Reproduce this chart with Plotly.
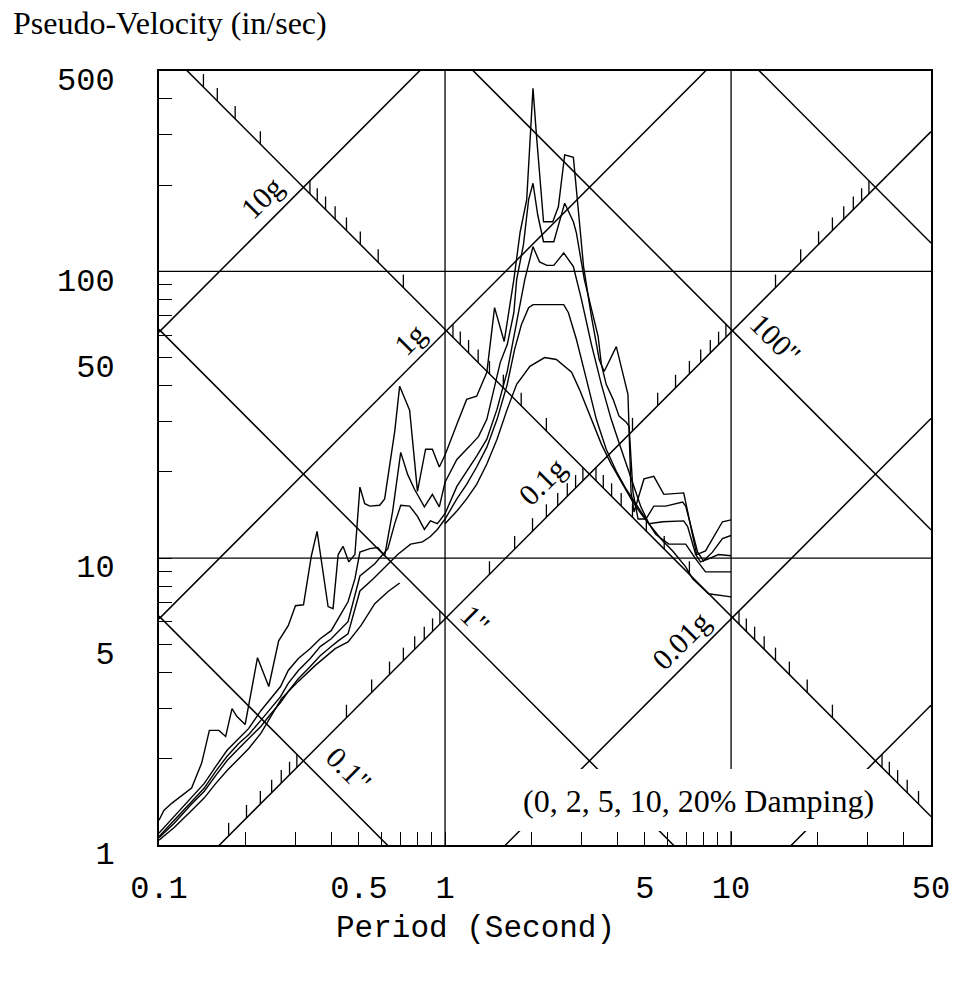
import numpy as np
import plotly.graph_objects as go

# ---------------- response spectra: period (s) vs pseudo-velocity (in/sec) ----------------
T_D0 = [0.1, 0.104, 0.111, 0.120, 0.130, 0.141, 0.150, 0.162, 0.171, 0.180, 0.187, 0.200,
        0.221, 0.242, 0.262, 0.283, 0.300, 0.320, 0.341, 0.357, 0.390, 0.406, 0.423, 0.440,
        0.461, 0.484, 0.504, 0.524, 0.546, 0.591, 0.615, 0.667, 0.694, 0.752, 0.801, 0.855,
        0.903, 0.955, 1.00, 1.10, 1.19, 1.29, 1.40, 1.49, 1.61, 1.74, 1.83, 1.93, 2.03, 2.09,
        2.21, 2.38, 2.49, 2.62, 2.81, 2.93, 3.05, 3.25, 3.46, 3.60, 3.97, 4.36, 4.47, 4.58,
        4.96, 5.37, 5.82, 6.83, 7.58, 8.14, 9.33, 10.0]
PSV_D0 = [1.22, 1.32, 1.40, 1.49, 1.58, 1.93, 2.51, 2.51, 2.39, 2.99, 2.81, 2.63,
          4.50, 3.57, 5.15, 5.82, 6.83, 6.88, 10.2, 12.4, 6.78, 6.67, 10.3, 11.0,
          9.71, 10.3, 17.7, 15.5, 15.2, 15.3, 16.1, 27.7, 39.8, 32.8, 17.1, 24.0,
          24.0, 20.8, 22.9, 29.3, 35.8, 36.7, 44.5, 74.8, 57.0, 93.6, 137, 178, 435, 294,
          149, 149, 168, 255, 250, 160, 104, 69.6, 49.3, 44.8, 54.7, 37.3, 17.0, 14.5,
          18.9, 19.3, 16.7, 16.9, 10.3, 10.6, 13.4, 13.6]

T_D2 = [0.1, 0.113, 0.130, 0.144, 0.158, 0.173, 0.190, 0.206, 0.227, 0.245, 0.266, 0.283,
        0.307, 0.338, 0.366, 0.400, 0.423, 0.458, 0.484, 0.504, 0.546, 0.582, 0.615, 0.656,
        0.700, 0.740, 0.782, 0.847, 0.903, 0.955, 1.00, 1.10, 1.22, 1.31, 1.40, 1.48, 1.56,
        1.65, 1.74, 1.78, 1.88, 1.96, 2.03, 2.11, 2.21, 2.40, 2.49, 2.62, 2.81, 2.88, 3.07,
        3.25, 3.43, 3.52, 3.66, 3.87, 4.06, 4.30, 4.40, 4.54, 4.73, 5.04, 5.37, 5.91, 6.77,
        6.94, 7.64, 8.01, 8.61, 9.33, 10.0]
PSV_D2 = [1.10, 1.26, 1.46, 1.64, 1.88, 2.14, 2.35, 2.55, 2.94, 3.24, 3.57, 4.06,
          4.47, 4.84, 5.24, 5.59, 6.15, 7.05, 8.47, 10.5, 10.8, 10.9, 10.2, 14.6,
          23.4, 19.6, 17.4, 15.1, 16.7, 15.1, 18.4, 22.1, 24.6, 26.6, 30.5, 38.8, 48.2,
          55.6, 71.8, 93.6, 124, 178, 203, 157, 127, 127, 145, 173, 149, 136, 93.6,
          73.6, 59.3, 47.4, 40.4, 35.8, 31.3, 29.8, 28.8, 17.0, 13.7, 13.7, 15.2, 15.2, 15.7,
          15.2, 10.5, 9.79, 10.5, 11.7, 12.0]

T_D5 = [0.1, 0.113, 0.130, 0.144, 0.158, 0.173, 0.190, 0.206, 0.227, 0.245, 0.266, 0.283,
        0.307, 0.338, 0.366, 0.400, 0.423, 0.458, 0.504, 0.568, 0.631, 0.667, 0.700, 0.752,
        0.801, 0.847, 0.889, 0.940, 1.00, 1.10, 1.19, 1.29, 1.40, 1.52, 1.65, 1.78, 1.90,
        2.03, 2.14, 2.27, 2.40, 2.60, 2.81, 3.00, 3.25, 3.52, 3.81, 4.13, 4.47, 4.84, 5.16,
        5.77, 6.83, 7.05, 7.52, 7.82, 8.34, 9.03, 10.0]
PSV_D5 = [1.07, 1.22, 1.42, 1.58, 1.81, 2.04, 2.26, 2.43, 2.72, 2.99, 3.29, 3.66,
          4.06, 4.47, 4.92, 5.24, 5.54, 6.01, 8.67, 9.56, 10.8, 13.2, 15.3, 15.2,
          14.0, 12.6, 13.5, 13.2, 14.3, 17.8, 20.1, 22.7, 26.0, 33.1, 44.8, 66.8, 93.6,
          122, 108, 105, 105, 116, 104, 79.8, 55.6, 40.4, 30.5, 24.0, 18.9, 15.1, 13.2,
          13.4, 13.5, 12.9, 10.3, 9.71, 9.95, 10.3, 10.2]

T_D10 = [0.1, 0.113, 0.130, 0.144, 0.158, 0.173, 0.190, 0.206, 0.227, 0.245, 0.266, 0.283,
         0.307, 0.338, 0.366, 0.400, 0.423, 0.458, 0.504, 0.560, 0.631, 0.683, 0.758, 0.834,
         0.889, 0.940, 1.00, 1.10, 1.19, 1.29, 1.40, 1.52, 1.65, 1.75, 1.85, 1.96, 2.03,
         2.60, 2.70, 2.88, 3.12, 3.38, 3.66, 3.97, 4.30, 4.65, 5.04, 5.46, 6.06, 6.94,
         7.52, 8.14, 10.0]
PSV_D10 = [1.06, 1.19, 1.39, 1.54, 1.75, 1.97, 2.17, 2.35, 2.59, 2.85, 3.14, 3.43,
           3.80, 4.19, 4.57, 4.92, 5.15, 5.45, 7.69, 8.47, 9.56, 10.3, 11.2, 11.4,
           11.9, 12.6, 13.7, 16.1, 18.1, 20.8, 24.4, 30.5, 40.4, 53.4, 65.3, 74.8, 76.6,
           76.6, 71.8, 57.9, 42.1, 30.5, 24.0, 20.1, 17.4, 15.5, 13.7, 12.1, 11.2, 11.2,
           9.95, 8.96, 8.96]

T_D20 = [0.1, 0.113, 0.130, 0.144, 0.158, 0.173, 0.190, 0.206, 0.227, 0.242, 0.268, 0.307,
         0.352, 0.413, 0.458, 0.508, 0.568, 0.631, 0.694, None, 1.00, 1.10, 1.19, 1.29,
         1.40, 1.52, 1.65, 1.78, 1.98, 2.23, 2.45, 2.77, 2.95, 3.25, 3.52, 3.81, 4.13,
         4.47, 4.84, 5.25, 5.68, 6.25, 6.94, 7.34, 8.34, 10.0]
PSV_D20 = [1.04, 1.15, 1.32, 1.46, 1.64, 1.82, 2.00, 2.17, 2.45, 2.72, 3.24, 3.72,
           4.23, 4.84, 5.11, 5.82, 6.94, 7.64, 8.20, None, 13.2, 14.6, 16.1, 18.1,
           21.3, 26.0, 33.1, 40.4, 46.7, 50.1, 49.3, 44.5, 38.8, 30.5, 25.0, 21.3, 18.4,
           16.1, 14.3, 12.9, 11.7, 10.6, 9.33, 8.47, 7.52, 7.33]

SPECTRA = [(T_D0, PSV_D0), (T_D2, PSV_D2), (T_D5, PSV_D5), (T_D10, PSV_D10), (T_D20, PSV_D20)]
DAMPING_NOTE = "(0, 2, 5, 10, 20% Damping)"

# ---------------- tripartite grid ----------------
G_IN = 386.09                      # gravity, in/s^2
ACCEL_G = [0.001, 0.01, 0.1, 1, 10]
DISP_IN = [0.1, 1, 10, 100, 1000]
SCALE_DISP = 10                    # displacement line carrying acceleration ticks
SCALE_ACCEL = 0.1                  # acceleration line carrying displacement ticks
GRID_T = [1, 10]
GRID_PSV = [10, 100]

T_RANGE = (0.1, 50)
PSV_RANGE = (1, 500)

X_TICKS = [0.1, 0.5, 1, 5, 10, 50]
X_TICKTEXT = ["0.1", "0.5", "1", "5", "10", "50"]
Y_TICKS = [1, 5, 10, 50, 100, 500]
Y_TICKTEXT = ["1", "5", "10", "50", "100", "500"]

# line labels: (text, value, period where label sits, offset px)
ACCEL_LABELS = [("10g", 10, 0.26, 16), ("1g", 1, 0.841, 14),
                ("0.1g", 0.1, 2.565, 20), ("0.01g", 0.01, 7.49, 14.5)]
DISP_LABELS = [("100\"", 100, 12.4, 17.5), ("1\"", 1, 1.143, 13.7), ("0.1\"", 0.1, 0.398, 18.5)]

TWO_PI = 2 * np.pi


def accel_psv(a, T):
    return a * G_IN * np.asarray(T, dtype=float) / TWO_PI


def disp_psv(d, T):
    return TWO_PI * d / np.asarray(T, dtype=float)


def crossing(d, a):
    T = TWO_PI * np.sqrt(d / (a * G_IN))
    return T, TWO_PI * d / T


# ---------------- layout geometry ----------------
W, H = 962, 996
M = dict(l=159, r=25, t=71, b=151)
PLOT_W = W - M["l"] - M["r"]
PLOT_H = H - M["t"] - M["b"]
PX_PER_DEC = PLOT_H / np.log10(PSV_RANGE[1] / PSV_RANGE[0])
TICK_PX = 13

MONO = "Courier New, Liberation Mono, monospace"
SERIF = "Times New Roman, Liberation Serif, serif"
LINE = dict(color="black", width=1.5)

fig = go.Figure()

# grid lines
for t in GRID_T:
    fig.add_trace(go.Scatter(x=[t, t], y=list(PSV_RANGE), mode="lines",
                             line=dict(color="black", width=1.3), hoverinfo="skip"))
for v in GRID_PSV:
    fig.add_trace(go.Scatter(x=list(T_RANGE), y=[v, v], mode="lines",
                             line=dict(color="black", width=1.3), hoverinfo="skip"))

# diagonal acceleration / displacement lines
T_ENDS = np.array(T_RANGE, dtype=float)
for a in ACCEL_G:
    fig.add_trace(go.Scatter(x=T_ENDS, y=accel_psv(a, T_ENDS), mode="lines",
                             line=LINE, hoverinfo="skip"))
for d in DISP_IN:
    fig.add_trace(go.Scatter(x=T_ENDS, y=disp_psv(d, T_ENDS), mode="lines",
                             line=LINE, hoverinfo="skip"))

# minor ticks along the two scale lines
tick_up = 10 ** (TICK_PX / PX_PER_DEC)
tx, ty = [], []
for m in range(-5, 3):
    for k in range(2, 10):
        for (T, V) in (crossing(SCALE_DISP, k * 10.0 ** m), crossing(k * 10.0 ** m, SCALE_ACCEL)):
            if T_RANGE[0] <= T <= T_RANGE[1] and PSV_RANGE[0] <= V <= PSV_RANGE[1] / tick_up:
                tx += [T, T, None]
                ty += [V, V * tick_up, None]
fig.add_trace(go.Scatter(x=tx, y=ty, mode="lines", line=dict(color="black", width=1.3),
                         hoverinfo="skip"))

# spectra
for T, V in SPECTRA:
    fig.add_trace(go.Scatter(x=T, y=V, mode="lines", line=dict(color="black", width=1.4),
                             connectgaps=False, hoverinfo="skip"))

annotations = []
for text, a, T, off in ACCEL_LABELS:
    annotations.append(dict(x=np.log10(T), y=np.log10(accel_psv(a, T)), xref="x", yref="y",
                            text=text, showarrow=False, textangle=-45,
                            xshift=-off, yshift=off,
                            font=dict(family=SERIF, size=30, color="black")))
for text, d, T, off in DISP_LABELS:
    annotations.append(dict(x=np.log10(T), y=np.log10(disp_psv(d, T)), xref="x", yref="y",
                            text=text, showarrow=False, textangle=45,
                            xshift=off, yshift=off,
                            font=dict(family=SERIF, size=30, color="black")))

annotations += [
    dict(x=(10 - M["l"]) / PLOT_W, y=(H - M["b"] - 23) / PLOT_H, xref="paper", yref="paper",
         text="Pseudo-Velocity (in/sec)", showarrow=False, xanchor="left", yanchor="middle",
         font=dict(family=SERIF, size=32, color="black")),
    dict(x=(478 - M["l"]) / PLOT_W, y=(H - M["b"] - 928) / PLOT_H, xref="paper", yref="paper",
         text="Period (Second)", showarrow=False, xanchor="center", yanchor="middle",
         font=dict(family=MONO, size=31, color="black")),
    dict(x=(703 - M["l"]) / PLOT_W, y=(H - M["b"] - 801) / PLOT_H, xref="paper", yref="paper",
         text=DAMPING_NOTE, showarrow=False, xanchor="center", yanchor="middle",
         font=dict(family=SERIF, size=32, color="black")),
]

# white panel behind the damping note
shapes = [dict(type="rect", xref="paper", yref="paper", layer="above",
               x0=(515 - M["l"]) / PLOT_W, x1=(881 - M["l"]) / PLOT_W,
               y0=(H - M["b"] - 831) / PLOT_H, y1=(H - M["b"] - 769) / PLOT_H,
               fillcolor="white", line=dict(width=0))]


def minor_vals(lo, hi, majors):
    out = []
    for m in range(-2, 4):
        for k in range(2, 10):
            v = k * 10.0 ** m
            if lo < v < hi and all(abs(v - q) > 1e-9 for q in majors):
                out.append(v)
    return out


axis_common = dict(type="log", showgrid=False, zeroline=False, showline=True, mirror=True,
                   linecolor="black", linewidth=1.8, ticks="inside", ticklen=13,
                   tickwidth=1.3, tickcolor="black", tickmode="array")

fig.update_layout(
    width=W, height=H, margin=M, showlegend=False,
    paper_bgcolor="white", plot_bgcolor="white",
    xaxis=dict(axis_common, range=[np.log10(T_RANGE[0]), np.log10(T_RANGE[1])],
               tickvals=X_TICKS, ticktext=X_TICKTEXT, ticklabelstandoff=13,
               tickfont=dict(family=MONO, size=32, color="black"),
               minor=dict(tickmode="array", tickvals=minor_vals(*T_RANGE, X_TICKS),
                          ticks="inside", ticklen=13, tickwidth=1.3, tickcolor="black",
                          showgrid=False)),
    yaxis=dict(axis_common, range=[np.log10(PSV_RANGE[0]), np.log10(PSV_RANGE[1])],
               tickvals=Y_TICKS, ticktext=Y_TICKTEXT, ticklabelstandoff=36,
               ticklabelshift=8,
               tickfont=dict(family=MONO, size=32, color="black"),
               minor=dict(tickmode="array", tickvals=minor_vals(*PSV_RANGE, Y_TICKS),
                          ticks="inside", ticklen=13, tickwidth=1.3, tickcolor="black",
                          showgrid=False)),
    annotations=annotations,
    shapes=shapes,
)

fig.write_html("out.html")
